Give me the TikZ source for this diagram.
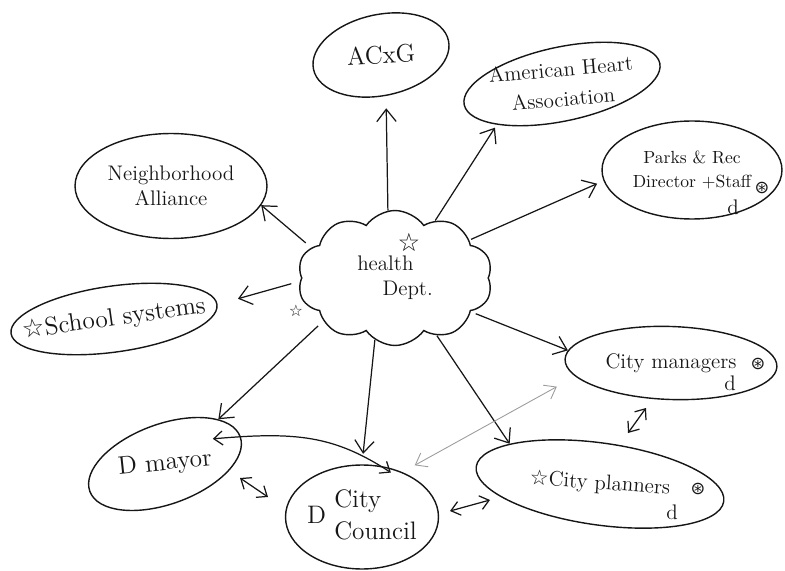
\documentclass[tikz,border=0pt]{standalone}
\usepackage{fontspec}
\usepackage{tikz}
\usetikzlibrary{positioning,arrows.meta,calc,shapes.geometric,shapes.symbols}
\newfontfamily\dvfont{DejaVu Sans}
\definecolor{ink}{HTML}{161616}
\definecolor{pencil}{HTML}{9C9C9C}
\newcommand{\hstar}{{\dvfont ☆}}
\newcommand{\blot}{{\dvfont ⊛}}
\tikzset{
  bubble/.style={draw=ink, ellipse, line width=0.8pt, inner sep=0pt},
  word/.style={inner sep=1pt, text=ink, align=center, font=\large},
  hub/.style={draw=ink, cloud, cloud puffs=10, cloud puff arc=110, aspect=1.45,
    line width=0.8pt, minimum width=3.9cm, minimum height=2.7cm, align=left,
    font=\large, text=ink},
  spoke/.style={draw=ink, line width=0.7pt, -{Straight Barb[length=7pt,width=11pt]}},
  twoway/.style={draw=ink, line width=0.7pt,
    {Straight Barb[length=5pt,width=8pt]}-{Straight Barb[length=5pt,width=8pt]}},
  faint/.style={draw=pencil, line width=0.5pt,
    {Straight Barb[length=6pt,width=9pt]}-{Straight Barb[length=6pt,width=9pt]}}
}
% name, centre, width, height, turn of ellipse, turn of text, text
\newcommand{\bubble}[7]{%
  \node[bubble, minimum width=#3, minimum height=#4, rotate=#5] (#1) at (#2) {};
  \node[word, rotate=#6] (#1-txt) at (#1) {#7};
}

\begin{document}
\begin{tikzpicture}[x=0.02cm, y=0.02cm]
  \useasboundingbox (0,0) rectangle (785,-571);

  % the department in the middle
  \node[hub] (health) at (395,-278) {health\\\hspace*{1.2em}Dept.};
  \node[word, font=\Large] (hstar) at (409,-242) {\hstar};
  \node[word, font=\small] (cstar) at (296,-311) {\hstar};

  % everyone around it
  \bubble{acxg}{381,-55}{2.76cm}{1.62cm}{12}{3}{\Large ACxG}
  \bubble{aha}{562,-84}{4cm}{1.48cm}{12}{5}{American Heart\\[3pt]Association}
  \bubble{parks}{692,-170}{3.6cm}{1.96cm}{0}{0}{\normalsize Parks \& Rec\\\normalsize Director +Staff}
  \bubble{neigh}{171,-186}{3.84cm}{2.1cm}{0}{0}{Neighborhood\\Alliance}
  \bubble{school}{114,-319}{4.16cm}{1.32cm}{8}{8}{\Large\hstar School systems}
  \bubble{managers}{671,-363}{4.24cm}{1.46cm}{-2}{0}{City managers}
  \bubble{mayor}{165,-464}{3.2cm}{1.6cm}{20}{6}{\Large D mayor}
  \bubble{council}{362,-517}{3.06cm}{2.08cm}{0}{0}{\Large D\ \begin{tabular}{@{}l@{}}City\\Council\end{tabular}}
  \bubble{planners}{600,-484}{5cm}{1.64cm}{-8}{-4}{\hstar City planners}

  \foreach \n/\x/\y in {parks/733/207, managers/730/383, planners/672/512}
    \node[word] (\n-d) at (\x,-\y) {d};
  \foreach \n/\x/\y in {parks/762/188, managers/758/364, planners/698/489}
    \node[word, font=\normalsize] (\n-blot) at (\x,-\y) {\blot};

  % spokes out of the department
  \foreach \n/\a/\b/\s/\e in {acxg/96/265/0pt/7pt, aha/55/200/0pt/2pt,
      parks/27/187/1pt/4pt, neigh/160/348/4pt/0pt, school/182/east/5pt/12pt,
      mayor/211/20/4pt/0pt, council/252/north/0pt/6pt, planners/306/164/0pt/0pt,
      managers/336/175/3pt/0pt}
    \draw[spoke, shorten <=\s, shorten >=\e] (health.\a) -- (\n.\b);

  % links between the others
  \draw[faint, shorten <=8pt, shorten >=12pt] (council.48) -- (managers.190);
  \draw[twoway, shorten <=-16pt, shorten >=-7pt] (mayor.east) to[out=5, in=147] (council.70);

  \coordinate (mc1) at (240,-478);
  \coordinate (mc2) at (268,-497);
  \coordinate (cp1) at (450,-511);
  \coordinate (cp2) at (490,-500);
  \coordinate (mp1) at (628,-433);
  \coordinate (mp2) at (646,-408);
  \foreach \p in {mc, cp, mp}
    \draw[twoway] (\p1) -- (\p2);
\end{tikzpicture}
\end{document}
